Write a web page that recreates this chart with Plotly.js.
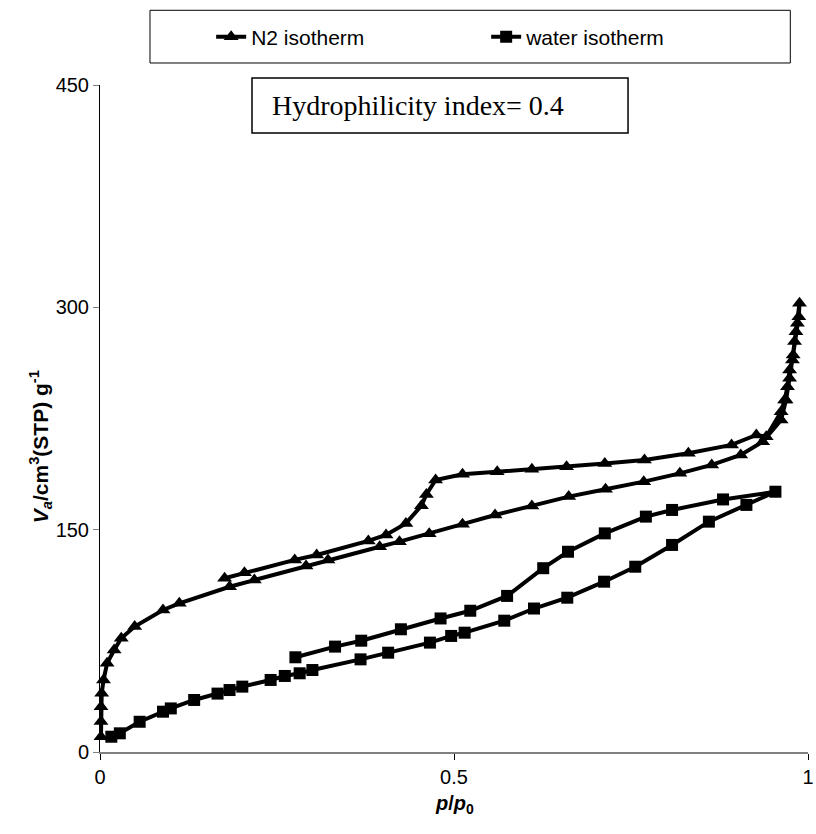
<!DOCTYPE html>
<html>
<head>
<meta charset="utf-8">
<script src="https://cdn.plot.ly/plotly-3.0.1.min.js"></script>
<style>html,body{margin:0;padding:0;background:#fff;}#chart{width:816px;height:834px;}</style>
</head>
<body>
<div id="chart"></div>
<script>
// N2 isotherm: adsorption branch then desorption branch (p/p0, V)
var n2P = [0.0014,0.0014,0.0014,0.0024,0.005,0.010,0.020,0.030,0.049,0.089,0.112,0.183,0.218,0.291,0.322,0.395,0.423,0.465,0.512,0.558,0.610,0.662,0.714,0.768,0.819,0.864,0.905,0.936,0.962,0.969,0.974,0.979,0.983,0.987,0.988,
           0.985,0.981,0.978,0.974,0.971,0.967,0.962,0.941,0.927,0.892,0.831,0.769,0.713,0.659,0.610,0.561,0.512,0.474,0.461,0.454,0.432,0.404,0.379,0.306,0.275,0.204,0.176];
var n2V = [10.3,20.5,30.6,39.6,48.6,59.8,68.8,76.7,84.6,95.8,100.3,111.5,116.0,125.5,129.6,138.5,141.9,147.2,153.7,159.9,166.0,172.3,177.3,182.4,188.0,193.7,200.4,209.3,224.0,237.5,252.2,267.9,283.6,293.7,302.7,
           289.3,276.9,264.5,257.8,246.5,237.5,229.6,212.7,213.9,207.2,201.5,197.0,194.7,192.5,190.7,189.0,187.4,183.5,173.8,166.2,154.2,146.4,142.4,132.9,129.6,121.0,117.2];
// Water isotherm: adsorption branch then desorption branch
var waterP = [0.016,0.028,0.056,0.089,0.100,0.133,0.166,0.183,0.201,0.241,0.261,0.282,0.300,0.368,0.407,0.466,0.496,0.515,0.571,0.613,0.660,0.712,0.756,0.808,0.860,0.913,0.954,
              0.880,0.808,0.771,0.713,0.661,0.626,0.575,0.523,0.481,0.425,0.369,0.332,0.276];
var waterV = [10.3,12.6,20.4,27.2,29.4,35.1,39.4,41.8,44.1,48.6,51.3,53.1,55.3,62.5,67.0,73.8,78.3,80.5,88.6,96.8,104.1,114.9,125.0,139.7,155.4,166.7,175.6,
              170.4,163.3,158.8,147.5,135.1,124.0,105.3,95.3,90.1,82.8,75.1,71.1,63.9];
var seriesNames = ['N2 isotherm','water isotherm'];
var xTicks = [0,0.5,1];
var xTickText = ['0','0.5','1'];
var yTicks = [0,150,300,450];
var noteText = 'Hydrophilicity index= 0.4';

var traces = [
  {x:n2P, y:n2V, name:seriesNames[0], mode:'lines+markers', cliponaxis:false,
   line:{color:'#000',width:4}, marker:{symbol:'triangle-up',size:13,color:'#000'}},
  {x:waterP, y:waterV, name:seriesNames[1], mode:'lines+markers', cliponaxis:false,
   line:{color:'#000',width:4}, marker:{symbol:'square',size:12,color:'#000'}}
];

var layout = {
  width:816, height:834,
  margin:{l:100, r:8, t:85, b:82},
  paper_bgcolor:'#fff', plot_bgcolor:'#fff',
  font:{family:'Liberation Sans, Arial, sans-serif', size:19, color:'#000'},
  showlegend:true,
  legend:{orientation:'h', x:0.157, xanchor:'left', y:1.072, yanchor:'middle',
          bgcolor:'rgba(0,0,0,0)', borderwidth:0, entrywidth:230, entrywidthmode:'pixels',
          font:{size:21, family:'Liberation Sans, Arial, sans-serif'}},
  xaxis:{range:[0,1], tickvals:xTicks, ticktext:xTickText, showgrid:false, zeroline:false,
         showline:true, linecolor:'#808080', linewidth:2, ticks:'outside', ticklen:6, tickcolor:'#000', tickwidth:1,
         tickfont:{size:20}},
  yaxis:{range:[0,450], tickvals:yTicks, showgrid:false, zeroline:false,
         showline:true, linecolor:'#000', linewidth:1, ticks:'outside', ticklen:6, tickcolor:'#808080', tickwidth:1,
         tickfont:{size:20}},
  shapes:[
    {type:'rect', xref:'paper', yref:'paper', x0:0.0706, x1:0.975, y0:1.033, y1:1.112, line:{color:'#000',width:1}, fillcolor:'rgba(0,0,0,0)'},
    {type:'rect', xref:'paper', yref:'paper', x0:0.2147, x1:0.7458, y0:0.928, y1:1.0105, line:{color:'#000',width:1.5}, fillcolor:'#fff'}
  ],
  annotations:[
    {xref:'paper', yref:'paper', x:0.240, y:0.970, xanchor:'left', yanchor:'middle', showarrow:false,
     text:noteText, font:{family:'Liberation Serif, Times New Roman, serif', size:28, color:'#000'}},
    {xref:'paper', yref:'paper', x:-0.0847, y:0.457, xanchor:'center', yanchor:'middle', showarrow:false, textangle:-90,
     text:'<b><i>V</i><sub><i>a</i></sub>/cm<sup>3</sup>(STP) g<sup>-1</sup></b>', font:{size:21}},
    {xref:'paper', yref:'paper', x:0.5, y:-0.079, xanchor:'center', yanchor:'middle', showarrow:false,
     text:'<b><i>p</i>/<i>p</i><sub>0</sub></b>', font:{size:20}}
  ]
};

Plotly.newPlot('chart', traces, layout, {displayModeBar:false, staticPlot:true});
</script>
</body>
</html>
